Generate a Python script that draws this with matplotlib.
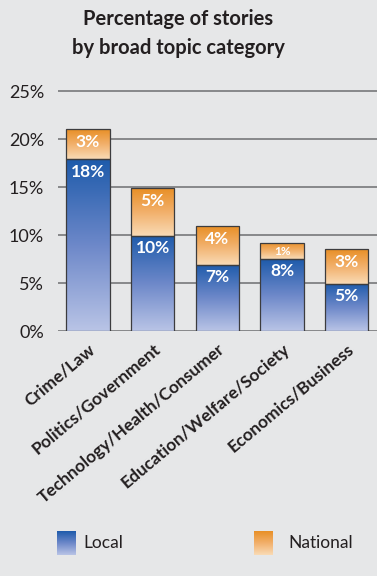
import numpy as np
import matplotlib
matplotlib.use("Agg")
import matplotlib.pyplot as plt
from matplotlib.colors import LinearSegmentedColormap

categories = ["Crime/Law", "Politics/Government", "Technology/Health/Consumer",
              "Education/Welfare/Society", "Economics/Business"]
local = [17.9, 9.9, 6.9, 7.5, 4.9]
national = [3.1, 4.95, 4.0, 1.7, 3.6]
local_labels = ["18%", "10%", "7%", "8%", "5%"]
national_labels = ["3%", "5%", "4%", "1%", "3%"]
yticks = [0, 5, 10, 15, 20, 25]

bg = "#e6e7e8"
txt = "#231f20"
blue_cm = LinearSegmentedColormap.from_list("b", ["#b9c4e6", "#6d88c9", "#1e5bab"])
orange_cm = LinearSegmentedColormap.from_list("o", ["#f9dbb6", "#f2b06b", "#e88f26"])
grad = np.linspace(0, 1, 256).reshape(-1, 1)

plt.rcParams["font.family"] = ["Lato", "DejaVu Sans"]

fig = plt.figure(figsize=(3.77, 5.76), dpi=100, facecolor=bg)
ax = fig.add_axes([58 / 377, 1 - 331 / 576, 1 - 58 / 377, (331 - 81.4) / 576])
ax.set_facecolor(bg)

x = np.arange(len(categories))

for y in yticks:
    ax.axhline(y, color="#6d6e71", lw=1.1, zorder=1)

def grad_bars(bottoms, heights, cmap):
    bars = ax.bar(x, heights, bottom=bottoms, width=0.67, color="none",
                  edgecolor="#3c3c3e", linewidth=0.9, zorder=3)
    for b in bars:
        x0, y0 = b.get_x(), b.get_y()
        im = ax.imshow(grad, cmap=cmap, origin="lower", aspect="auto",
                       extent=[x0, x0 + b.get_width(), y0, y0 + b.get_height()],
                       zorder=2)
        im.set_clip_path(b)
    return bars

grad_bars([0] * len(local), local, blue_cm)
grad_bars(local, national, orange_cm)
ax.set_xlim(-0.464, 4.467)
ax.set_ylim(0, 26)

for i in range(len(categories)):
    ax.annotate(local_labels[i], (x[i], local[i]), xytext=(0, -9),
                textcoords="offset points", ha="center", va="center",
                color="white", fontweight="bold", fontsize=12.5, zorder=5)
    top = local[i] + national[i]
    small = national[i] < 2
    ax.annotate(national_labels[i], (x[i], top), xytext=(0, -6 if small else -9),
                textcoords="offset points", ha="center", va="center",
                color="white", fontweight="bold", fontsize=8.5 if small else 12.5, zorder=5)

ax.set_yticks(yticks)
ax.set_yticklabels([f"{v}%" for v in yticks], fontsize=13, color=txt)
ax.set_xticks(x)
ax.set_xticklabels(categories, rotation=40, ha="right", rotation_mode="anchor",
                   fontsize=12.5, fontweight="bold", color=txt)
ax.tick_params(length=0)
ax.tick_params(axis="y", pad=10)
ax.tick_params(axis="x", pad=7)
for s in ax.spines.values():
    s.set_visible(False)

fig.text(178 / 377, 1 - 19 / 576, "Percentage of stories", ha="center", va="center",
         fontsize=14.5, fontweight="bold", color=txt)
fig.text(178 / 377, 1 - 48 / 576, "by broad topic category", ha="center", va="center",
         fontsize=14.5, fontweight="bold", color=txt)

# legend swatches
for (lx, cmap, label, tx) in [(57, blue_cm, "Local", 83), (254, orange_cm, "National", 288)]:
    sw = fig.add_axes([lx / 377, 1 - 555 / 576, 19 / 377, 24 / 576])
    sw.imshow(grad, cmap=cmap, origin="lower", aspect="auto")
    sw.axis("off")
    fig.text(tx / 377, 1 - 543 / 576, label, ha="left", va="center",
             fontsize=12.5, color=txt)

fig.savefig("out.png", dpi=100, facecolor=bg)
